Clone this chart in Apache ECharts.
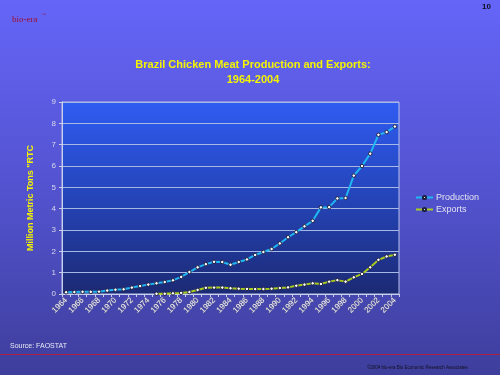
<!DOCTYPE html>
<html>
<head>
<meta charset="utf-8">
<script src="https://cdn.jsdelivr.net/npm/echarts@6/dist/echarts.min.js"></script>
<style>
html,body{margin:0;padding:0;}
#c{width:500px;height:375px;background:linear-gradient(to bottom,#6565f8 0%,#5353d0 50%,#3e3e9c 100%);}
</style>
</head>
<body>
<div id="c"></div>
<script>
var years = [];
for (var y = 1964; y <= 2004; y++) years.push(String(y));

var production = [0.08,0.09,0.10,0.10,0.11,0.16,0.20,0.22,0.30,0.37,
  0.44,0.50,0.56,0.64,0.80,1.03,1.25,1.40,1.51,1.50,
  1.37,1.50,1.62,1.83,1.97,2.11,2.37,2.66,2.90,3.17,
  3.43,4.06,4.07,4.48,4.50,5.55,6.00,6.58,7.46,7.59,7.85];

var exportsData = [null,null,null,null,null,null,null,null,null,null,
  null,0.01,0.01,0.03,0.05,0.09,0.19,0.29,0.30,0.30,
  0.27,0.25,0.24,0.23,0.23,0.25,0.28,0.31,0.39,0.44,
  0.50,0.47,0.58,0.65,0.58,0.78,0.94,1.25,1.60,1.76,1.84];

var yTicks = [0,1,2,3,4,5,6,7,8,9];

var chart = echarts.init(document.getElementById('c'), null, {renderer:'canvas'});
var font = 'Liberation Sans, Arial, sans-serif';
chart.setOption({
  backgroundColor: 'transparent',
  animation: false,
  title: {
    text: 'Brazil Chicken Meat Production and Exports:\n1964-2004',
    left: 248, top: 52, textAlign: 'center',
    textStyle: {color:'#f4f400', fontSize: 11, fontWeight:'bold', fontFamily: font, lineHeight: 15}
  },
  legend: {
    orient: 'vertical', left: 410, top: 188,
    itemWidth: 17, itemHeight: 4, itemGap: 3,
    textStyle: {color:'#e2e2f2', fontSize: 9, fontFamily: font, padding:[0,0,0,-2]},
    data: ['Production','Exports']
  },
  grid: {
    left: 62, right: 101, top: 102, bottom: 81,
    show: true,
    borderColor: '#b8c4e8', borderWidth: 1,
    backgroundColor: new echarts.graphic.LinearGradient(0,0,0,1,[
      {offset:0,color:'#2f5cf2'},{offset:0.5,color:'#2444b8'},{offset:1,color:'#1c2a74'}])
  },
  xAxis: {
    type: 'category', data: years, boundaryGap: true,
    axisLine: {lineStyle:{color:'#c8d0ec', width:1}},
    axisTick: {show:true, interval:0, length:3, lineStyle:{color:'#c8d0ec'}},
    axisLabel: {interval:1, rotate:45, color:'#f0f0f8', fontSize:8, fontFamily:font, margin:5,
      textBorderColor:'#5a5a90', textBorderWidth:1}
  },
  yAxis: {
    type: 'value', min: 0, max: 9, interval: 1,
    name: 'Million Metric Tons "RTC', nameLocation:'middle', nameRotate:90, nameGap: 27,
    nameTextStyle: {color:'#f4f400', fontSize:9, fontWeight:'bold', fontFamily:font},
    axisLine: {show:true, lineStyle:{color:'#c8d0ec'}},
    axisTick: {show:true, length:3, lineStyle:{color:'#c8d0ec'}},
    axisLabel: {color:'#d8d8ec', fontSize:8, fontFamily:font, margin:6,
      formatter: function(v){ return yTicks.indexOf(v) >= 0 ? String(v) : ''; }},
    splitLine: {show:true, lineStyle:{color:'#a8b8e4', width:1}}
  },
  series: [
    {
      name: 'Production', type: 'line', data: production,
      symbol: 'circle', symbolSize: 3.5, showAllSymbol: true,
      lineStyle: {color:'#1fb6f2', width:2},
      itemStyle: {color:'#ffffff', borderColor:'#202040', borderWidth:1},
      color: '#1fb6f2'
    },
    {
      name: 'Exports', type: 'line', data: exportsData,
      symbol: 'circle', symbolSize: 3.5, showAllSymbol: true,
      lineStyle: {color:'#a8cc1c', width:2},
      itemStyle: {color:'#ffffff', borderColor:'#202040', borderWidth:1},
      color: '#a8cc1c'
    }
  ],
  graphic: [
    {type:'text', left: 12, top: 15, style:{text:'bio-era', fill:'#a01030', font:'9px "Liberation Serif", serif'}},
    {type:'text', left: 42, top: 13, style:{text:'\u2122', fill:'#a01030', font:'4px "Liberation Serif", serif'}},
    {type:'text', left: 482, top: 3, style:{text:'10', fill:'#101020', font:'bold 8px "Liberation Sans", Arial, sans-serif'}},
    {type:'text', left: 10, top: 343, style:{text:'Source: FAOSTAT', fill:'#e8e8f4', font:'7px "Liberation Sans", Arial, sans-serif'}},
    {type:'rect', shape:{x:0, y:354, width:500, height:1}, style:{fill:'#b02040'}},
    {type:'text', left: 367, top: 365, style:{text:'\u00a92004 bio-era Bio Economic Research Associates', fill:'#101020', font:'4.5px "Liberation Sans", Arial, sans-serif'}}
  ]
});
</script>
</body>
</html>
